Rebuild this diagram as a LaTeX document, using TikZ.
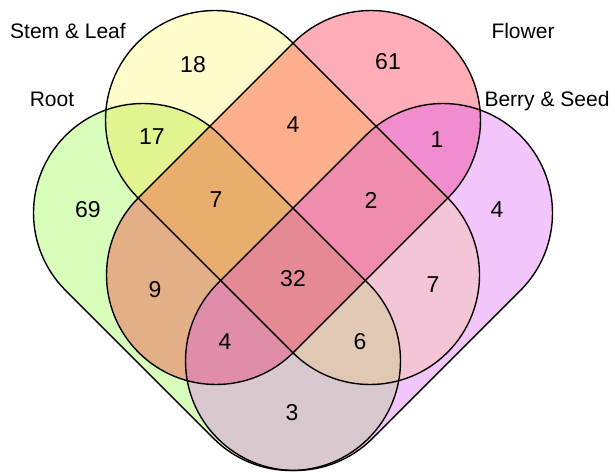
\documentclass[tikz,border=0pt]{standalone}
\usepackage{fontspec}
\setmainfont{Liberation Sans}
\usetikzlibrary{calc}

% region colours
\definecolor{cR}{HTML}{D8FDBA}
\definecolor{cS}{HTML}{FFFDCB}
\definecolor{cF}{HTML}{FFAEB9}
\definecolor{cB}{HTML}{F2C6FB}
\definecolor{cRS}{HTML}{E0F590}
\definecolor{cSF}{HTML}{FCAE8D}
\definecolor{cFB}{HTML}{F18DCF}
\definecolor{cRB}{HTML}{D9C8CE}
\definecolor{cRF}{HTML}{E2AF86}
\definecolor{cSB}{HTML}{F3C5D7}
\definecolor{cRSF}{HTML}{E9AD6E}
\definecolor{cSFB}{HTML}{F08DAE}
\definecolor{cRFB}{HTML}{E08DA9}
\definecolor{cRSB}{HTML}{E1C8B5}
\definecolor{cAll}{HTML}{E58A95}

\tikzset{
  outline/.style={draw=black, line width=1.4pt, line join=round},
  num/.style={font=\fontsize{23}{27}\selectfont, inner sep=0pt},
  setlabel/.style={font=\fontsize{21}{25}\selectfont, inner sep=0pt, anchor=base},
}

% half width of every band
\def\rr{109.5}
% each set is a band with round ends, centred on the segment (X1)-(X2)
\def\shapeR{($(R1)+(45:\rr)$) -- ($(R2)+(45:\rr)$) arc[start angle=45,end angle=-135,radius=\rr] -- ($(R1)+(225:\rr)$) arc[start angle=225,end angle=45,radius=\rr] -- cycle}
\def\shapeS{($(S1)+(45:\rr)$) -- ($(S2)+(45:\rr)$) arc[start angle=45,end angle=-135,radius=\rr] -- ($(S1)+(225:\rr)$) arc[start angle=225,end angle=45,radius=\rr] -- cycle}
\def\shapeF{($(F1)+(-45:\rr)$) -- ($(F2)+(-45:\rr)$) arc[start angle=-45,end angle=-225,radius=\rr] -- ($(F1)+(135:\rr)$) arc[start angle=135,end angle=-45,radius=\rr] -- cycle}
\def\shapeB{($(B1)+(-45:\rr)$) -- ($(B2)+(-45:\rr)$) arc[start angle=-45,end angle=-225,radius=\rr] -- ($(B1)+(135:\rr)$) arc[start angle=135,end angle=-45,radius=\rr] -- cycle}

\begin{document}
\begin{tikzpicture}[x=1pt,y=1pt]
\useasboundingbox (0,0) rectangle (615,472);

% end-cap centres of the four bands
\coordinate (R1) at (143,259);
\coordinate (R2) at (291,111);
\coordinate (S1) at (215,352);
\coordinate (S2) at (370,197);
\coordinate (F1) at (371,352);
\coordinate (F2) at (216,197);
\coordinate (B1) at (443,259);
\coordinate (B2) at (295,111);

% single sets
\fill[cR] \shapeR;
\fill[cS] \shapeS;
\fill[cF] \shapeF;
\fill[cB] \shapeB;

% pairs
\begin{scope}\clip \shapeR; \fill[cRS] \shapeS; \end{scope}
\begin{scope}\clip \shapeR; \fill[cRF] \shapeF; \end{scope}
\begin{scope}\clip \shapeR; \fill[cRB] \shapeB; \end{scope}
\begin{scope}\clip \shapeS; \fill[cSF] \shapeF; \end{scope}
\begin{scope}\clip \shapeS; \fill[cSB] \shapeB; \end{scope}
\begin{scope}\clip \shapeF; \fill[cFB] \shapeB; \end{scope}

% triples
\begin{scope}\clip \shapeR; \clip \shapeS; \fill[cRSF] \shapeF; \end{scope}
\begin{scope}\clip \shapeR; \clip \shapeS; \fill[cRSB] \shapeB; \end{scope}
\begin{scope}\clip \shapeR; \clip \shapeF; \fill[cRFB] \shapeB; \end{scope}
\begin{scope}\clip \shapeS; \clip \shapeF; \fill[cSFB] \shapeB; \end{scope}

% all four
\begin{scope}\clip \shapeR; \clip \shapeS; \clip \shapeF; \fill[cAll] \shapeB; \end{scope}

% outlines
\path[outline] \shapeR;
\path[outline] \shapeS;
\path[outline] \shapeF;
\path[outline] \shapeB;

% region counts
\node[num] (n18) at (193,407) {18};
\node[num] (n61) at (388,410) {61};
\node[num] (n17) at (152,335) {17};
\node[num] (nSF) at (293,347) {4};
\node[num] (n1) at (437,332) {1};
\node[num] (n69) at (88,262) {69};
\node[num] (nRSF) at (216,272) {7};
\node[num] (n2) at (371,272) {2};
\node[num] (nB) at (497,262) {4};
\node[num] (n9) at (155,182) {9};
\node[num] (n32) at (293,193) {32};
\node[num] (nSB) at (433,187) {7};
\node[num] (nRFB) at (225,130) {4};
\node[num] (n6) at (360,130) {6};
\node[num] (n3) at (292,59) {3};

% set names
\node[setlabel] (lS) at (68,433) {Stem \& Leaf};
\node[setlabel] (lR) at (52,365) {Root};
\node[setlabel] (lF) at (523,433) {Flower};
\node[setlabel] (lB) at (547,365) {Berry \& Seed};
\end{tikzpicture}
\end{document}
